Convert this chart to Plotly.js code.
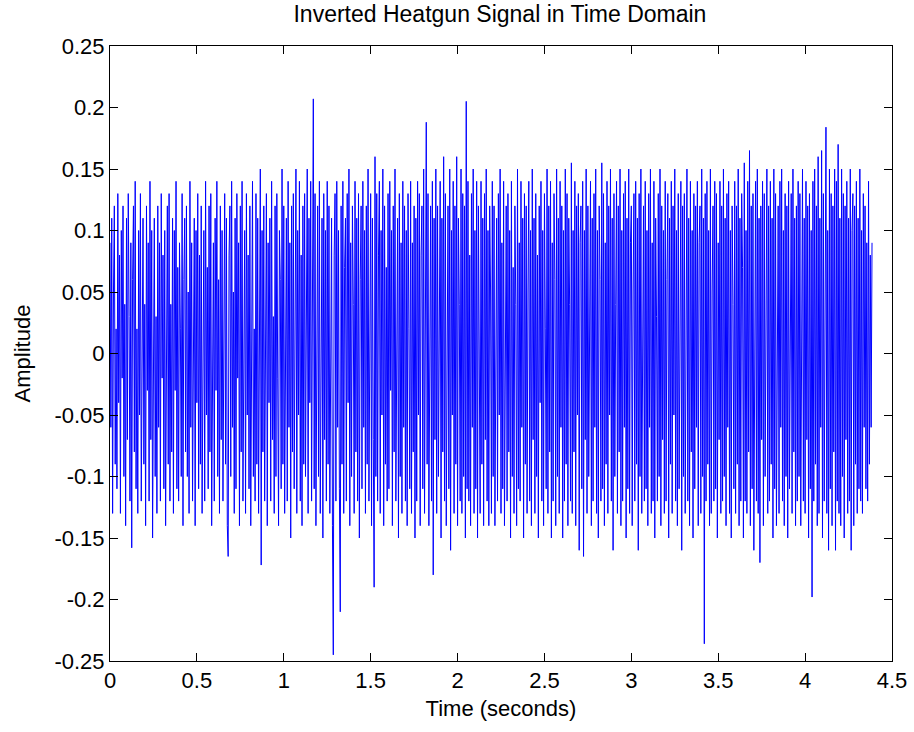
<!DOCTYPE html>
<html>
<head>
<meta charset="utf-8">
<script src="https://cdn.plot.ly/plotly-3.0.1.min.js"></script>
<style>html,body{margin:0;padding:0;background:#fff;}#chart{width:914px;height:732px;}</style>
</head>
<body>
<div id="chart"></div>
<script>
// Sample interval of the recorded signal (seconds)
const sampleInterval = 0.005;

// Amplitude readings, segment by segment (each ~0.44 s)
const segA = [
0.09,-0.06,0.11,-0.13,0.05,0.12,-0.09,0.02,
-0.11,0.13,-0.04,0.08,-0.13,0.10,-0.02,0.12,
-0.10,0.04,-0.14,0.11,-0.07,0.13,0.03,-0.12,
0.09,-0.158,0.06,0.12,-0.08,0.14,-0.11,0.02,
-0.13,0.10,-0.05,0.13,-0.12,0.07,0.11,-0.09,
0.04,-0.14,0.12,-0.03,0.09,-0.12,0.14,-0.07,
0.10,-0.15,0.06,0.11,-0.10,0.03,-0.13,0.12,
-0.06,0.09,-0.12,0.13,-0.02,0.08,-0.11,0.10,
-0.14,0.05,0.12,-0.09,0.13,-0.12,0.04,-0.08,
0.11,-0.13,0.10,-0.03,0.14,-0.11,0.07,-0.12,
0.09,0.02,-0.10,0.13,-0.14,0.06,0.11,-0.08];
const segB = [
0.12,-0.10,0.05,-0.13,0.14,-0.06,0.09,-0.12,
0.03,0.11,-0.14,0.10,-0.04,0.13,-0.11,0.08,
-0.09,0.12,-0.13,0.02,0.10,-0.12,0.14,-0.05,
0.07,-0.11,0.12,-0.08,0.13,-0.14,0.04,0.09,
-0.12,0.11,-0.03,0.14,-0.10,0.06,-0.13,0.12,
-0.07,0.10,-0.12,0.03,0.13,-0.09,0.11,-0.14,
-0.165,0.08,0.12,-0.10,0.14,-0.06,0.05,-0.13,
0.11,-0.11,0.13,-0.02,0.09,-0.14,0.12,-0.08,
0.14,-0.12,0.04,0.10,-0.13,0.13,-0.05,0.08,
-0.11,0.12,-0.14,0.07,0.14,-0.10,0.02,-0.12,
0.13,-0.09,0.11,-0.13,0.06,0.15,-0.172,0.10];
const segC = [
-0.08,0.12,-0.12,0.05,0.13,-0.14,0.09,-0.04,
0.11,-0.12,0.14,-0.07,0.03,-0.13,0.12,-0.10,
0.13,-0.02,-0.14,0.10,0.06,-0.11,0.15,-0.09,
0.12,-0.13,0.04,0.11,-0.12,0.14,-0.06,0.09,
-0.15,0.12,-0.08,0.13,-0.11,0.03,0.15,-0.13,
0.10,-0.05,0.14,-0.12,0.08,-0.14,0.12,-0.09,
0.13,-0.10,0.05,0.15,-0.13,0.11,-0.04,0.14,
-0.12,0.09,0.207,-0.11,0.13,-0.14,0.06,0.12,
-0.10,0.14,-0.13,0.03,0.11,-0.15,0.13,-0.07,
0.10,-0.12,0.14,-0.09,0.12,-0.13,0.05,0.11,
-0.14,-0.245,0.08,0.13,-0.12,0.14,-0.06,0.10];
const segD = [
-0.11,-0.21,0.12,-0.09,0.14,-0.13,0.07,0.11,
-0.12,0.13,-0.04,0.15,-0.14,0.09,-0.10,0.12,
0.04,-0.13,0.14,-0.08,0.11,-0.12,0.13,-0.15,
0.06,0.12,-0.11,0.14,-0.06,0.10,-0.13,0.12,
-0.09,0.15,-0.12,0.03,0.13,-0.14,0.11,-0.07,
-0.19,0.16,-0.10,0.13,-0.12,0.08,0.14,-0.13,
0.10,-0.05,0.15,-0.14,0.12,-0.09,0.07,-0.12,
0.13,-0.11,0.14,-0.03,0.10,-0.14,0.12,-0.08,
0.15,-0.12,0.05,0.11,-0.15,0.13,-0.10,0.09,
-0.13,0.14,-0.06,0.12,-0.12,0.10,-0.14,0.13,
0.02,-0.11,0.14,-0.13,0.09,-0.08,0.12,-0.15];
const segE = [
0.11,-0.12,0.14,-0.05,0.13,-0.14,0.08,0.12,
-0.11,0.15,-0.13,0.10,0.188,-0.09,0.13,-0.14,
0.06,0.12,-0.12,0.14,-0.18,0.11,-0.07,0.15,
-0.13,0.12,-0.10,0.04,0.14,-0.15,0.11,-0.08,
0.16,-0.12,0.13,-0.14,0.07,0.12,-0.11,0.15,
-0.16,0.10,-0.05,0.14,-0.13,0.12,-0.09,0.16,
-0.14,0.11,0.04,-0.12,0.15,-0.13,0.13,-0.10,
0.12,-0.15,0.205,-0.11,0.14,-0.12,0.08,-0.14,
0.13,-0.06,0.15,-0.13,0.10,-0.11,0.14,-0.15,
0.12,0.03,-0.13,0.14,-0.09,0.11,-0.14,0.13,
-0.07,0.15,-0.12,0.10,-0.14,0.12,0.05,-0.13];
const segF = [
0.14,-0.10,0.12,-0.14,0.06,0.11,-0.12,0.13,
-0.05,0.15,-0.13,0.09,-0.11,0.14,-0.14,0.03,
0.12,-0.12,0.13,-0.08,0.10,-0.15,0.14,-0.10,
0.07,-0.13,0.12,0.04,-0.14,0.15,-0.11,0.09,
-0.12,0.14,-0.06,0.11,-0.15,0.13,-0.09,0.12,
-0.13,0.05,0.14,-0.12,0.10,-0.14,0.15,-0.07,
0.11,-0.13,0.13,-0.10,0.08,-0.15,0.12,-0.04,
0.14,-0.12,0.10,-0.14,0.13,0.02,-0.11,0.15,
-0.13,0.12,-0.08,0.14,-0.15,0.09,-0.12,0.13,
0.06,-0.14,0.15,-0.10,0.11,-0.13,0.14,-0.06,
0.12,-0.15,0.10,-0.12,0.15,-0.09,0.13,-0.14];
const segG = [
0.11,0.04,-0.12,0.155,-0.13,0.10,-0.08,0.14,
-0.14,0.12,-0.05,0.13,-0.16,0.09,0.12,-0.11,
0.14,-0.165,0.10,-0.07,0.15,-0.13,0.12,-0.10,
0.03,0.14,-0.14,0.11,-0.12,0.13,-0.06,0.15,
-0.13,0.10,-0.15,0.12,0.06,-0.12,0.155,-0.11,
0.13,-0.14,0.09,-0.09,0.14,-0.13,0.12,-0.05,
0.15,-0.12,0.11,-0.16,0.13,-0.10,0.04,0.14,
-0.13,0.12,-0.08,0.15,-0.14,0.10,-0.12,0.13,
-0.06,0.14,-0.15,0.11,-0.11,0.15,-0.13,0.09,
0.12,-0.14,0.05,0.13,-0.12,0.14,-0.09,0.11,
-0.16,0.13,-0.10,0.15,-0.13,0.08,0.12,-0.12];
const segH = [
0.14,-0.11,0.10,-0.14,0.13,-0.06,0.15,-0.13,
0.09,-0.12,0.14,-0.15,0.11,0.03,-0.12,0.13,
-0.10,0.15,-0.14,0.12,-0.07,0.10,-0.13,0.14,
-0.12,0.06,0.13,-0.15,0.11,-0.09,0.14,-0.13,
0.12,-0.05,0.15,-0.12,0.10,-0.14,0.13,-0.11,
0.08,0.14,-0.16,0.12,-0.10,0.13,-0.13,0.04,
0.15,-0.12,0.11,-0.14,0.14,-0.08,0.10,-0.15,
0.13,-0.11,0.12,-0.06,0.14,-0.14,0.09,0.12,
-0.13,0.15,-0.10,0.11,-0.236,0.13,-0.12,0.14,
-0.09,0.10,-0.14,0.15,-0.13,0.05,0.12,-0.12,
0.14,-0.11,0.13,-0.15,0.09,-0.07,0.14,-0.13];
const segI = [
0.12,-0.12,0.15,-0.10,0.11,-0.14,0.13,-0.06,
0.14,-0.13,0.10,-0.15,0.12,0.04,-0.11,0.14,
-0.13,0.12,-0.09,0.15,-0.14,0.11,-0.12,0.13,
0.07,-0.15,0.155,-0.12,0.10,-0.13,0.14,-0.08,
0.165,-0.14,0.12,-0.11,0.13,-0.16,0.09,0.14,
-0.12,0.15,-0.13,0.11,-0.17,0.12,-0.07,0.14,
-0.14,0.13,-0.10,0.06,0.15,-0.13,0.12,-0.12,
0.14,-0.09,0.11,-0.15,0.15,-0.11,0.13,-0.14,
0.08,0.12,-0.13,0.14,-0.06,0.15,-0.12,0.10,
-0.14,0.13,-0.10,0.12,-0.15,0.14,-0.11,0.05,
0.13,-0.13,0.15,-0.08,0.11,-0.14,0.12,-0.12];
const segJ = [
0.14,-0.10,0.13,-0.14,0.09,0.15,-0.12,0.11,
-0.13,0.14,-0.07,0.12,-0.15,0.13,-0.11,0.10,
-0.198,0.14,-0.12,0.15,-0.09,0.12,-0.14,0.16,
-0.13,0.11,-0.06,0.165,-0.15,0.13,-0.12,0.14,
0.184,-0.13,0.10,-0.16,0.15,-0.11,0.13,-0.14,
0.12,-0.08,0.15,-0.16,0.14,-0.12,0.17,-0.13,
0.11,-0.14,0.15,-0.10,0.13,-0.15,0.12,-0.07,
0.14,-0.13,0.11,-0.12,0.15,-0.16,0.10,0.13,
-0.14,0.12,-0.09,0.14,-0.13,0.11,-0.11,0.15,
-0.12,0.10,-0.13,0.13,-0.06,0.12,-0.11,0.09,
-0.12,0.14,-0.09,0.08,-0.06,0.09];

const xTickVals = [0,0.5,1,1.5,2,2.5,3,3.5,4,4.5];
const xTickText = ['0','0.5','1','1.5','2','2.5','3','3.5','4','4.5'];
const yTickVals = [-0.25,-0.2,-0.15,-0.1,-0.05,0,0.05,0.1,0.15,0.2,0.25];
const yTickText = ['-0.25','-0.2','-0.15','-0.1','-0.05','0','0.05','0.1','0.15','0.2','0.25'];

const amplitude = [].concat(segA,segB,segC,segD,segE,segF,segG,segH,segI,segJ);
const time = amplitude.map((_, i) => i * sampleInterval);

const font = {family: 'Liberation Sans, Arial, sans-serif', color: '#000'};

const axisCommon = {
  showline: true, linecolor: '#000', linewidth: 1, mirror: 'ticks',
  ticks: 'inside', ticklen: 8, tickcolor: '#000', tickwidth: 1,
  showgrid: false, zeroline: false,
  tickfont: Object.assign({size: 22}, font)
};

Plotly.newPlot('chart', [{
  x: time, y: amplitude, type: 'scatter', mode: 'lines',
  line: {color: '#0000ff', width: 1}, hoverinfo: 'skip'
}], {
  width: 914, height: 732,
  margin: {l: 110, r: 22, t: 46, b: 71},
  paper_bgcolor: '#fff', plot_bgcolor: '#fff',
  showlegend: false,
  title: {text: 'Inverted Heatgun Signal in Time Domain', font: Object.assign({size: 23}, font), x: 0.547, xanchor: 'center', y: 0.992, yanchor: 'top'},
  xaxis: Object.assign({}, axisCommon, {
    range: [0, 4.5], tickmode: 'array', tickvals: xTickVals, ticktext: xTickText,
    title: {text: 'Time (seconds)', font: Object.assign({size: 22}, font), standoff: 8}
  }),
  yaxis: Object.assign({}, axisCommon, {
    range: [-0.25, 0.25], tickmode: 'array', tickvals: yTickVals, ticktext: yTickText,
    title: {text: 'Amplitude', font: Object.assign({size: 22}, font), standoff: 17}
  })
}, {staticPlot: true});
</script>
</body>
</html>
